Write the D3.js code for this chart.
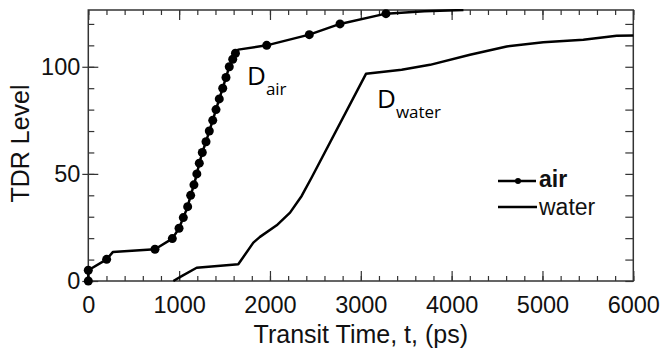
<!DOCTYPE html>
<html>
<head>
<meta charset="utf-8">
<script src="https://cdn.jsdelivr.net/npm/d3@7"></script>
<style>
body { margin: 0; background: #fff; }
svg { display: block; }
</style>
</head>
<body>
<script>
// air trace (dot = 1 where a marker is drawn)
var airTime  = [0, 0, 202, 270, 734, 925, 999, 1046, 1094, 1127, 1163, 1195, 1222, 1255, 1296, 1332, 1370, 1406, 1442, 1480, 1516, 1552, 1590, 1620, 1651, 1964, 2433, 2771, 3277, 3700, 4130];
var airLevel = [0, 5, 10.1, 13.5, 14.8, 19.8, 24.6, 29.6, 34.7, 40, 44.9, 50, 55, 60, 65, 70, 75, 80, 85, 90, 95, 100, 103.5, 106.3, 108, 110, 115, 120, 124.8, 125.9, 126.5];
var airDot   = [1, 1, 1, 0, 1, 1, 1, 1, 1, 1, 1, 1, 1, 1, 1, 1, 1, 1, 1, 1, 1, 1, 1, 1, 0, 1, 1, 1, 1, 0, 0];

// water trace
var waterTime  = [936, 1028, 1193, 1651, 1817, 1890, 2074, 2221, 2349, 2459, 3057, 3450, 3762, 4202, 4606, 5009, 5450, 5817, 6000];
var waterLevel = [0, 2.3, 6.2, 7.8, 17.9, 20.6, 26, 31.9, 39.7, 48.3, 96.7, 98.6, 100.9, 105.6, 109.5, 111.4, 112.6, 114.5, 114.6];

var xMajor = [0, 1000, 2000, 3000, 4000, 5000, 6000];
var yMajor = [0, 50, 100];

var W = 663, H = 352;
var pL = 88.3, pR = 633.3, pT = 10, pB = 281;

var x = d3.scaleLinear().domain([0, 6000]).range([pL, pR]);
var y = d3.scaleLinear().domain([0, 126.5]).range([pB, pT]);

var svg = d3.select("body").append("svg")
    .attr("width", W)
    .attr("height", H);

var font = "Liberation Sans, Arial, Helvetica, sans-serif";

// minor tick values
var xMinor = d3.range(0, 6001, 200);
var yMinor = d3.range(0, 126, 10);

function styleAxis(g) {
  g.select(".domain").remove();
  g.selectAll(".tick line").attr("stroke", "#333").attr("stroke-width", 1.2);
}

// bottom
svg.append("g")
    .attr("transform", "translate(0," + pB + ")")
    .call(d3.axisBottom(x).tickValues(xMinor).tickSize(-5).tickFormat(""))
    .call(styleAxis);
svg.append("g")
    .attr("transform", "translate(0," + pB + ")")
    .call(d3.axisBottom(x).tickValues(xMajor).tickSize(-10).tickPadding(15).tickFormat(d3.format("d")))
    .call(styleAxis)
    .selectAll("text")
    .attr("font-family", font)
    .attr("font-size", 23.5)
    .attr("fill", "#111");

// top
svg.append("g")
    .attr("transform", "translate(0," + pT + ")")
    .call(d3.axisTop(x).tickValues(xMinor).tickSize(-5).tickFormat(""))
    .call(styleAxis);
svg.append("g")
    .attr("transform", "translate(0," + pT + ")")
    .call(d3.axisTop(x).tickValues(xMajor).tickSize(-10).tickFormat(""))
    .call(styleAxis);

// left
svg.append("g")
    .attr("transform", "translate(" + pL + ",0)")
    .call(d3.axisLeft(y).tickValues(yMinor).tickSize(-6).tickFormat(""))
    .call(styleAxis);
svg.append("g")
    .attr("transform", "translate(" + pL + ",0)")
    .call(d3.axisLeft(y).tickValues(yMajor).tickSize(6).tickPadding(2).tickFormat(d3.format("d")))
    .call(styleAxis)
    .selectAll("text")
    .attr("font-family", font)
    .attr("font-size", 23.5)
    .attr("fill", "#111");
svg.append("g")
    .attr("transform", "translate(" + pL + ",0)")
    .call(d3.axisLeft(y).tickValues(yMajor).tickSize(-10).tickFormat(""))
    .call(styleAxis);

// right
svg.append("g")
    .attr("transform", "translate(" + pR + ",0)")
    .call(d3.axisRight(y).tickValues(yMinor).tickSize(-8).tickFormat(""))
    .call(styleAxis);

// frame
svg.append("rect")
    .attr("x", pL)
    .attr("y", pT)
    .attr("width", pR - pL)
    .attr("height", pB - pT)
    .attr("fill", "none")
    .attr("stroke", "#333")
    .attr("stroke-width", 1.5);

svg.append("clipPath").attr("id", "plot")
  .append("rect")
    .attr("x", pL - 6)
    .attr("y", pT - 1)
    .attr("width", pR - pL + 7)
    .attr("height", pB - pT + 8);

var line = d3.line()
    .x(function(d){ return x(d[0]); })
    .y(function(d){ return y(d[1]); });

var airPts = airTime.map(function(t, i){ return [t, airLevel[i], airDot[i]]; });
var waterPts = waterTime.map(function(t, i){ return [t, waterLevel[i]]; });

var plot = svg.append("g").attr("clip-path", "url(#plot)");

plot.append("path")
    .datum(waterPts)
    .attr("d", line)
    .attr("fill", "none")
    .attr("stroke", "#000")
    .attr("stroke-width", 2.5)
    .attr("stroke-linejoin", "round");

plot.append("path")
    .datum(airPts)
    .attr("d", line)
    .attr("fill", "none")
    .attr("stroke", "#000")
    .attr("stroke-width", 2.5)
    .attr("stroke-linejoin", "round");

plot.selectAll("circle.air")
    .data(airPts.filter(function(d){ return d[2]; }))
    .enter().append("circle")
    .attr("class", "air")
    .attr("cx", function(d){ return x(d[0]); })
    .attr("cy", function(d){ return y(d[1]); })
    .attr("r", 4.5)
    .attr("fill", "#000");

// axis titles
svg.append("text")
    .attr("x", (pL + pR) / 2)
    .attr("y", 343)
    .attr("text-anchor", "middle")
    .attr("font-family", font)
    .attr("font-size", 25)
    .attr("fill", "#111")
    .text("Transit Time, t, (ps)");

svg.append("text")
    .attr("transform", "translate(29," + ((pT + pB) / 2 - 2) + ") rotate(-90)")
    .attr("text-anchor", "middle")
    .attr("font-family", font)
    .attr("font-size", 25)
    .attr("fill", "#111")
    .text("TDR Level");

// legend
var legend = svg.append("g");
legend.append("line")
    .attr("x1", 498).attr("x2", 536)
    .attr("y1", 181).attr("y2", 181)
    .attr("stroke", "#000").attr("stroke-width", 2.5);
legend.append("circle")
    .attr("cx", 518).attr("cy", 181).attr("r", 3)
    .attr("fill", "#000");
legend.append("text")
    .attr("x", 539).attr("y", 187)
    .attr("font-family", font)
    .attr("font-size", 23)
    .attr("font-weight", "bold")
    .attr("fill", "#111")
    .text("air");
legend.append("line")
    .attr("x1", 498).attr("x2", 537)
    .attr("y1", 207).attr("y2", 207)
    .attr("stroke", "#000").attr("stroke-width", 2.5);
legend.append("text")
    .attr("x", 539).attr("y", 215)
    .attr("font-family", font)
    .attr("font-size", 23)
    .attr("fill", "#111")
    .text("water");

// D labels
var dFont = "Open Sans, Noto Sans, sans-serif";
var dAir = svg.append("text")
    .attr("x", 247).attr("y", 85)
    .attr("font-family", dFont)
    .attr("fill", "#000");
dAir.append("tspan").attr("font-size", 26).text("D");
dAir.append("tspan").attr("font-size", 17).attr("dy", 10).text("air");

var dWater = svg.append("text")
    .attr("x", 377).attr("y", 108)
    .attr("font-family", dFont)
    .attr("fill", "#000");
dWater.append("tspan").attr("font-size", 26).text("D");
dWater.append("tspan").attr("font-size", 17).attr("dy", 10).text("water");
</script>
</body>
</html>
